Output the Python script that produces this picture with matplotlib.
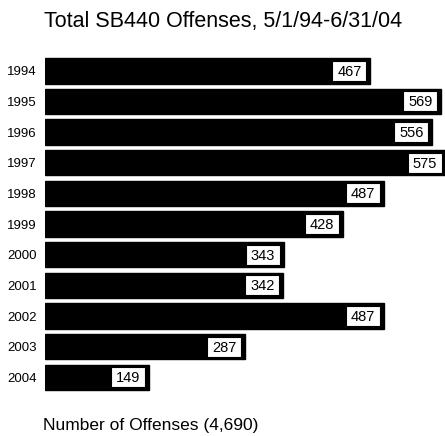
import matplotlib
matplotlib.use("Agg")
import matplotlib.pyplot as plt
from matplotlib.patches import Rectangle

""" DATA """

years = ["1994", "1995", "1996", "1997", "1998", "1999",
         "2000", "2001", "2002", "2003", "2004"]
offenses = [467, 569, 556, 575, 487, 428, 343, 342, 487, 287, 149]
title = "Total SB440 Offenses, 5/1/94-6/31/04"
xlabel = "Number of Offenses (4,690)"

""" PLOT """

plt.rcParams['font.family'] = ['Liberation Sans', 'DejaVu Sans']

W, H = 445, 436
fig = plt.figure(figsize=(W / 100, H / 100), dpi=100)
fig.patch.set_facecolor('white')

# axes placed so bars start at x=45px and rows sit ~30.6px apart
top_px, step_px = 55.5, 30.65
n = len(years)
bot_px = top_px + step_px * n
ax = fig.add_axes([45 / W, 1 - bot_px / H, 1 - 45 / W, (bot_px - top_px) / H])
ypos = list(range(n))
ax.barh(ypos, offenses, height=0.83, color='black', edgecolor='black')
ax.set_xlim(0, 575)
ax.set_ylim(n - 0.5, -0.5)

# white value boxes at the right end of each bar
px = 575 / (W - 45)          # data units per pixel
box_w, box_h, gap = 34 * px, 20 / step_px, 3.5 * px
for y, v in zip(ypos, offenses):
    x1 = v - gap
    ax.add_patch(Rectangle((x1 - box_w, y - box_h / 2), box_w, box_h,
                           facecolor='white', edgecolor='black', linewidth=0.8,
                           zorder=3))
    ax.text(x1 - box_w / 2, y + 0.03, str(v), ha='center', va='center',
            fontsize=10.5, color='black', zorder=4)

ax.set_yticks(ypos)
ax.set_yticklabels(years, fontsize=9.5)
ax.tick_params(axis='y', length=0, pad=6)
ax.set_xticks([])
for s in ax.spines.values():
    s.set_visible(False)

fig.text(223.5 / W, 1 - 27 / H, title, ha='center', va='baseline', fontsize=15.5)
fig.text(43 / W, 1 - 430 / H, xlabel, ha='left', va='baseline', fontsize=12.5)

fig.savefig("out.png", dpi=100, facecolor='white')
